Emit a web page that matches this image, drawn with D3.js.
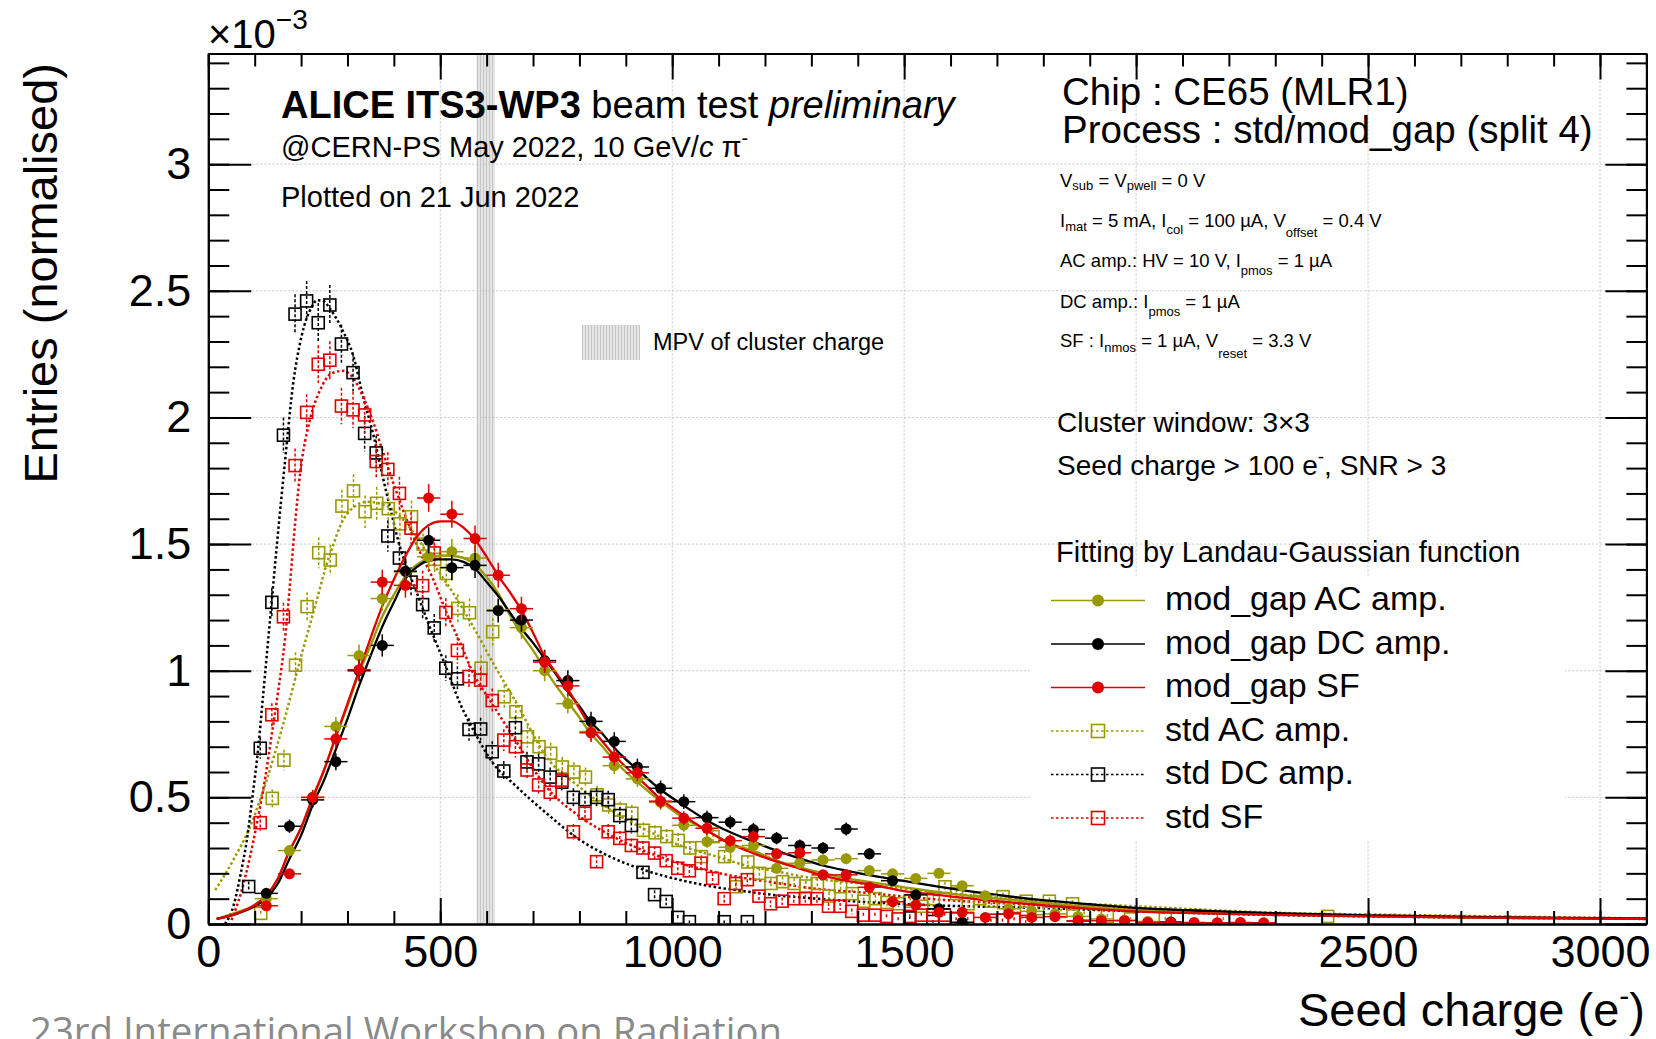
<!DOCTYPE html>
<html>
<head>
<meta charset="utf-8">
<script src="https://cdn.jsdelivr.net/npm/d3@7"></script>
<style>
  html, body { margin: 0; padding: 0; background: #fff; }
  svg { display: block; font-family: "Liberation Sans", Arial, sans-serif; }
</style>
</head>
<body>
<svg id="chart" width="1656" height="1039"></svg>
<script>
// ====== Dados ======
// pontos [carga (e-), entradas x1e-3]
const modAC = [[125,0.10],[175,0.29],[225,0.50],[275,0.78],[325,1.06],[375,1.285],[425,1.39],[475,1.45],[525,1.47],[575,1.445],
  [625,1.24],[675,1.17],[725,1.00],[775,0.87],[825,0.76],[875,0.625],[925,0.573],[975,0.48],[1025,0.39],[1075,0.325],
  [1125,0.303],[1175,0.31],[1225,0.22],[1275,0.24],[1325,0.253],[1375,0.258],[1425,0.211],[1475,0.198],[1525,0.18],[1575,0.20],
  [1625,0.151],[1675,0.112],[1725,0.06],[1775,0.05],[1825,0.04],[1875,0.03],[1925,0.02],[1975,0.015],[2025,0.01]];
const modDC = [[125,0.121],[175,0.386],[225,0.49],[275,0.641],[325,1.00],[375,1.10],[425,1.393],[475,1.515],[525,1.407],[575,1.416],
  [625,1.237],[675,1.20],[725,1.04],[775,0.961],[825,0.80],[875,0.721],[925,0.62],[975,0.536],[1025,0.483],[1075,0.42],
  [1125,0.402],[1175,0.373],[1225,0.339],[1275,0.31],[1325,0.30],[1375,0.375],[1425,0.277],[1475,0.171],[1525,0.115],[1575,0.06],
  [1625,0.007],[1875,0.012],[2075,0.008]];
const modSF = [[125,0.072],[175,0.198],[225,0.50],[275,0.731],[325,1.004],[375,1.35],[425,1.337],[475,1.682],[525,1.618],[575,1.522],
  [625,1.377],[675,1.245],[725,1.034],[775,0.94],[825,0.755],[875,0.659],[925,0.597],[975,0.485],[1025,0.418],[1075,0.378],
  [1125,0.329],[1175,0.345],[1225,0.277],[1275,0.281],[1325,0.194],[1375,0.194],[1425,0.145],[1475,0.088],[1525,0.075],[1575,0.046],
  [1625,0.046],[1675,0.026],[1725,0.04],[1775,0.026],[1825,0.029],[1875,0.013],[1925,0.013],[1975,0.013],[2025,0.006],[2075,0.006],
  [2125,0.006],[2175,0.005],[2225,0.006],[2275,0.005]];
const stdAC = [[113,0.042],[138,0.496],[163,0.647],[188,1.022],[213,1.253],[238,1.466],[263,1.437],[288,1.65],[313,1.71],[338,1.628],
  [363,1.661],[388,1.64],[413,1.58],[438,1.608],[463,1.50],[488,1.44],[513,1.384],[538,1.246],[563,1.229],[588,1.01],
  [613,1.154],[638,0.897],[663,0.838],[688,0.739],[713,0.70],[738,0.674],[763,0.62],[788,0.60],[813,0.58],[838,0.51],
  [863,0.47],[888,0.45],[913,0.437],[938,0.37],[963,0.36],[988,0.345],[1013,0.33],[1038,0.30],[1063,0.266],[1088,0.345],
  [1113,0.266],[1138,0.147],[1163,0.245],[1188,0.20],[1213,0.16],[1238,0.167],[1263,0.16],[1288,0.15],[1313,0.16],[1338,0.11],
  [1363,0.147],[1388,0.12],[1413,0.09],[1438,0.10],[1463,0.085],[1488,0.08],[1513,0.09],[1538,0.07],[1563,0.10],[1588,0.147],
  [1613,0.12],[1638,0.08],[1663,0.10],[1688,0.09],[1713,0.108],[1738,0.07],[1763,0.09],[1788,0.06],[1813,0.09],[1838,0.05],
  [1863,0.08],[1888,0.04],[1938,0.03],[1988,0.02],[2063,0.02],[2188,0.02],[2413,0.03]];
const stdDC = [[87,0.148],[112,0.694],[137,1.27],[162,1.93],[187,2.408],[212,2.46],[237,2.374],[262,2.444],[287,2.29],[312,2.177],
  [337,1.937],[362,1.86],[387,1.532],[412,1.445],[437,1.35],[462,1.261],[487,1.169],[512,1.01],[537,0.968],[562,0.768],
  [587,0.770],[612,0.68],[637,0.604],[662,0.775],[687,0.64],[712,0.632],[737,0.58],[762,0.56],[787,0.50],[812,0.491],
  [837,0.50],[862,0.491],[887,0.428],[912,0.389],[937,0.204],[962,0.116],[987,0.089],[1012,0.026],[1037,0.009],[1112,0.009],
  [1162,0.009],[1512,0.024],[1562,0.01]];
const stdSF = [[112,0.40],[137,0.826],[162,1.213],[187,1.81],[212,2.02],[237,2.21],[262,2.226],[287,2.045],[312,2.03],[337,2.01],
  [362,1.826],[387,1.795],[412,1.70],[437,1.563],[462,1.336],[487,1.465],[512,1.23],[537,1.08],[562,0.977],[587,0.963],
  [612,0.882],[637,0.726],[662,0.70],[687,0.608],[712,0.549],[737,0.52],[762,0.568],[787,0.364],[812,0.437],[837,0.246],
  [862,0.364],[887,0.338],[912,0.31],[937,0.30],[962,0.28],[987,0.25],[1012,0.22],[1037,0.21],[1062,0.24],[1087,0.18],
  [1112,0.10],[1137,0.16],[1162,0.175],[1187,0.11],[1212,0.08],[1237,0.09],[1262,0.10],[1287,0.10],[1312,0.10],[1337,0.07],
  [1362,0.07],[1387,0.05],[1412,0.035],[1437,0.035],[1462,0.03],[1487,0.02],[1512,0.03],[1537,0.035],[1562,0.035],[1587,0.035],
  [1612,0.02],[1637,0.02],[1687,0.015],[1712,0.015],[1737,0.02],[1762,0.01]];

// curvas de ajuste Landau-Gauss (amostradas da figura)
const fitModAC = [[18,0.02],[60,0.045],[100,0.075],[124,0.11],[150,0.18],[173,0.28],[200,0.38],[225,0.49],[250,0.61],[273,0.73],
  [300,0.86],[325,0.99],[350,1.10],[374,1.21],[400,1.30],[424,1.37],[450,1.42],[471,1.44],[505,1.455],[540,1.45],[574,1.42],
  [600,1.37],[627,1.30],[650,1.22],[673,1.15],[700,1.08],[724,1.01],[750,0.94],[774,0.88],[800,0.815],[823,0.755],[850,0.70],
  [873,0.65],[900,0.60],[925,0.56],[971,0.49],[1023,0.42],[1074,0.37],[1122,0.32],[1174,0.29],[1225,0.25],[1273,0.225],
  [1327,0.20],[1377,0.18],[1434,0.163],[1500,0.145],[1577,0.125],[1700,0.10],[1793,0.085],[1900,0.068],[2008,0.055],
  [2150,0.046],[2295,0.039],[2500,0.031],[2750,0.025],[3100,0.02]];
const fitModDC = [[18,0.02],[60,0.04],[100,0.07],[124,0.10],[150,0.16],[173,0.25],[200,0.35],[225,0.47],[250,0.57],[273,0.68],
  [300,0.81],[325,0.94],[350,1.06],[374,1.17],[400,1.27],[424,1.36],[450,1.41],[467,1.43],[496,1.44],[524,1.44],[550,1.43],
  [574,1.405],[600,1.35],[627,1.29],[650,1.23],[673,1.17],[700,1.11],[724,1.05],[750,0.985],[774,0.92],[800,0.86],[823,0.80],
  [850,0.75],[873,0.70],[900,0.65],[925,0.61],[971,0.536],[1023,0.47],[1074,0.41],[1122,0.365],[1174,0.325],[1225,0.29],
  [1273,0.26],[1327,0.23],[1377,0.21],[1434,0.19],[1500,0.17],[1577,0.147],[1700,0.115],[1793,0.095],[1900,0.078],
  [2008,0.063],[2150,0.052],[2295,0.043],[2500,0.034],[2750,0.027],[3100,0.021]];
const fitModSF = [[18,0.02],[60,0.04],[100,0.075],[124,0.11],[150,0.18],[173,0.28],[200,0.38],[225,0.50],[250,0.61],[273,0.73],
  [300,0.87],[325,1.00],[350,1.13],[374,1.25],[400,1.36],[424,1.45],[450,1.53],[475,1.575],[500,1.59],[526,1.59],[550,1.565],
  [574,1.52],[600,1.45],[627,1.37],[650,1.31],[673,1.245],[700,1.15],[724,1.06],[750,0.99],[774,0.93],[800,0.85],[823,0.78],
  [850,0.72],[873,0.67],[900,0.62],[925,0.58],[971,0.50],[1023,0.43],[1074,0.37],[1122,0.32],[1174,0.28],[1225,0.246],
  [1273,0.22],[1327,0.19],[1377,0.17],[1434,0.154],[1500,0.13],[1577,0.114],[1700,0.09],[1793,0.075],[1900,0.06],
  [2008,0.049],[2150,0.042],[2295,0.036],[2500,0.03],[2750,0.025],[3100,0.02]];
const fitStdAC = [[15,0.134],[54,0.253],[90,0.384],[126,0.569],[162,0.793],[198,1.042],[234,1.28],[255,1.42],[270,1.50],[284,1.57],
  [313,1.645],[342,1.667],[370,1.66],[399,1.634],[428,1.58],[456,1.51],[485,1.424],[528,1.306],[571,1.174],[614,1.03],
  [665,0.87],[729,0.66],[801,0.54],[873,0.443],[945,0.37],[1017,0.31],[1089,0.27],[1161,0.23],[1232,0.205],[1305,0.18],
  [1405,0.16],[1550,0.13],[1793,0.09],[2000,0.07],[2295,0.045],[2600,0.035],[3100,0.022]];
const fitStdDC = [[36,0.0],[54,0.07],[70,0.2],[83,0.33],[95,0.5],[108,0.70],[118,0.9],[129,1.12],[139,1.32],[149,1.52],[165,1.82],
  [183,2.135],[201,2.32],[223,2.437],[235,2.463],[248,2.46],[262,2.43],[288,2.35],[313,2.24],[334,2.08],[356,1.93],[376,1.766],
  [395,1.62],[413,1.49],[430,1.40],[449,1.31],[478,1.17],[507,1.04],[543,0.87],[579,0.74],[614,0.634],[660,0.55],[729,0.437],
  [801,0.332],[873,0.26],[945,0.21],[1017,0.174],[1089,0.147],[1161,0.128],[1232,0.112],[1305,0.101],[1405,0.088],
  [1550,0.075],[1793,0.063],[2000,0.05],[2295,0.036],[2600,0.028],[3100,0.02]];
const fitStdSF = [[50,0.016],[70,0.12],[90,0.266],[105,0.40],[122,0.569],[137,0.75],[151,0.924],[165,1.12],[176,1.34],[187,1.58],
  [198,1.78],[219,1.99],[241,2.108],[266,2.174],[291,2.184],[313,2.154],[334,2.08],[356,1.98],[377,1.86],[399,1.74],[420,1.634],
  [442,1.53],[456,1.47],[485,1.36],[514,1.227],[543,1.11],[571,0.99],[607,0.884],[657,0.74],[729,0.54],[801,0.424],[873,0.345],
  [945,0.285],[1017,0.24],[1089,0.206],[1161,0.18],[1232,0.16],[1305,0.14],[1405,0.125],[1550,0.10],[1793,0.075],[2000,0.06],
  [2295,0.042],[2600,0.032],[3100,0.022]];

const legendNames = ["mod_gap AC amp.", "mod_gap DC amp.", "mod_gap SF", "std AC amp.", "std DC amp.", "std SF"];
const xTicks = [0, 500, 1000, 1500, 2000, 2500, 3000];
const yTicks = [0, 0.5, 1, 1.5, 2, 2.5, 3];
const mpvBand = [578, 618];
const paramLines = [
  [["V"], ["sub", 3], [" = V"], ["pwell", 3], [" = 0 V"]],
  [["I"], ["mat", 4], [" = 5 mA, I"], ["col", 7], [" = 100 \u00b5A, V"], ["offset", 10], [" = 0.4 V"]],
  [["AC amp.: HV = 10 V, I"], ["pmos", 8], [" = 1 \u00b5A"]],
  [["DC amp.: I"], ["pmos", 8], [" = 1 \u00b5A"]],
  [["SF : I"], ["nmos", 5], [" = 1 \u00b5A, V"], ["reset", 11], [" = 3.3 V"]]
];

const olive = "#999900", red = "#e00000", black = "#000000";

// series: ordem de desenho (std primeiro)
const series = [
  { name: legendNames[3], color: olive, open: true, pts: stdAC, fit: fitStdAC, halfBin: 12.5 },
  { name: legendNames[4], color: black, open: true, pts: stdDC, fit: fitStdDC, halfBin: 12.5 },
  { name: legendNames[5], color: red, open: true, pts: stdSF, fit: fitStdSF, halfBin: 12.5 },
  { name: legendNames[0], color: olive, open: false, pts: modAC, fit: fitModAC, halfBin: 25 },
  { name: legendNames[1], color: black, open: false, pts: modDC, fit: fitModDC, halfBin: 25 },
  { name: legendNames[2], color: red, open: false, pts: modSF, fit: fitModSF, halfBin: 25 }
];

// ====== Escalas ======
const frame = { left: 208.3, right: 1646.4, top: 53.5, bottom: 924 };
const x = d3.scaleLinear().domain([0, 3100]).range([frame.left, frame.right]);
const y = d3.scaleLinear().domain([0, 3.437]).range([frame.bottom, frame.top]);

const svg = d3.select("#chart");
const defs = svg.append("defs");

defs.append("clipPath").attr("id", "plotClip")
  .append("rect")
  .attr("x", frame.left).attr("y", frame.top)
  .attr("width", frame.right - frame.left).attr("height", frame.bottom - frame.top);

// hachura da banda MPV
const pat = defs.append("pattern").attr("id", "mpvHatch")
  .attr("patternUnits", "userSpaceOnUse").attr("width", 3).attr("height", 3);
pat.append("rect").attr("width", 3).attr("height", 3).attr("fill", "#e4e4e4");
pat.append("line").attr("x1", 0.5).attr("x2", 0.5).attr("y1", 0).attr("y2", 3)
  .attr("stroke", "#c6c6c6").attr("stroke-width", 1);

// ====== Banda MPV ======
svg.append("rect")
  .attr("x", x(mpvBand[0])).attr("y", frame.top)
  .attr("width", x(mpvBand[1]) - x(mpvBand[0])).attr("height", frame.bottom - frame.top)
  .attr("fill", "url(#mpvHatch)");

// ====== Grade ======
const grid = svg.append("g").attr("stroke", "#c4c4c4").attr("stroke-width", 1).attr("stroke-dasharray", "2,2");
xTicks.filter(v => v > 0).forEach(v => {
  grid.append("line").attr("x1", x(v)).attr("x2", x(v)).attr("y1", frame.top).attr("y2", frame.bottom);
});
yTicks.filter(v => v > 0).forEach(v => {
  grid.append("line").attr("x1", frame.left).attr("x2", frame.right).attr("y1", y(v)).attr("y2", y(v));
});

// caixa branca da legenda (cobre a grade)
svg.append("rect").attr("x", 1030).attr("y", 577).attr("width", 535).attr("height", 263).attr("fill", "#fff");

// ====== Dados e ajustes ======
const plot = svg.append("g").attr("clip-path", "url(#plotClip)");
const line = d3.line().x(d => x(d[0])).y(d => y(d[1])).curve(d3.curveMonotoneX);
const errScale = 0.042;

function drawFit(s) {
  plot.append("path")
    .datum(s.fit)
    .attr("d", line)
    .attr("fill", "none")
    .attr("stroke", s.color)
    .attr("stroke-width", s.open ? 2.5 : 2.3)
    .attr("stroke-dasharray", s.open ? "2.5,2.5" : null);
}

function drawPoints(s) {
  const g = plot.append("g");
  const err = d => errScale * Math.sqrt(d[1]) * (s.open ? 1.2 : 1);
  // barras de erro
  g.selectAll(".ey").data(s.pts).enter().append("line")
    .attr("x1", d => x(d[0])).attr("x2", d => x(d[0]))
    .attr("y1", d => y(d[1] + err(d))).attr("y2", d => y(Math.max(0, d[1] - err(d))))
    .attr("stroke", s.color).attr("stroke-width", 1.5)
    .attr("stroke-dasharray", s.open ? "3,2" : null);
  if (!s.open) {
    g.selectAll(".ex").data(s.pts).enter().append("line")
      .attr("x1", d => x(d[0] - s.halfBin)).attr("x2", d => x(d[0] + s.halfBin))
      .attr("y1", d => y(d[1])).attr("y2", d => y(d[1]))
      .attr("stroke", s.color).attr("stroke-width", 1.5);
    g.selectAll("circle").data(s.pts).enter().append("circle")
      .attr("cx", d => x(d[0])).attr("cy", d => y(d[1])).attr("r", 5.5)
      .attr("fill", s.color);
  } else {
    g.selectAll("rect").data(s.pts).enter().append("rect")
      .attr("x", d => x(d[0]) - 6).attr("y", d => y(d[1]) - 6)
      .attr("width", 12).attr("height", 12)
      .attr("fill", "none").attr("stroke", s.color).attr("stroke-width", 1.6);
  }
}

series.filter(s => s.open).forEach(drawFit);
series.filter(s => s.open).forEach(drawPoints);
series.filter(s => !s.open).forEach(drawFit);
series.filter(s => !s.open).forEach(drawPoints);

// ====== Eixos ======
function styleAxis(g) {
  g.select(".domain").attr("stroke", "#000").attr("stroke-width", 2);
  g.selectAll(".tick line").attr("stroke", "#000").attr("stroke-width", 2);
  g.selectAll("text").attr("font-size", 45).attr("fill", "#000")
    .attr("font-family", "Liberation Sans, Arial, sans-serif");
}
const xMinor = d3.range(0, 3101, 100);
const yMinor = d3.range(0, 3.41, 0.1);

svg.append("g").attr("transform", `translate(0,${frame.bottom})`)
  .call(d3.axisBottom(x).tickValues(xMinor).tickSize(-13).tickSizeOuter(0).tickFormat(""))
  .call(styleAxis);
svg.append("g").attr("transform", `translate(0,${frame.bottom})`)
  .call(d3.axisBottom(x).tickValues(xTicks).tickSize(-26).tickSizeOuter(0).tickPadding(11).tickFormat(d3.format("d")))
  .call(styleAxis);
svg.append("g").attr("transform", `translate(0,${frame.top})`)
  .call(d3.axisTop(x).tickValues(xMinor).tickSize(-13).tickSizeOuter(0).tickFormat(""))
  .call(styleAxis);
svg.append("g").attr("transform", `translate(0,${frame.top})`)
  .call(d3.axisTop(x).tickValues(xTicks).tickSize(-26).tickSizeOuter(0).tickFormat(""))
  .call(styleAxis);
svg.append("g").attr("transform", `translate(${frame.left},0)`)
  .call(d3.axisLeft(y).tickValues(yMinor).tickSize(-21).tickSizeOuter(0).tickFormat(""))
  .call(styleAxis);
svg.append("g").attr("transform", `translate(${frame.left},0)`)
  .call(d3.axisLeft(y).tickValues(yTicks).tickSize(-43).tickSizeOuter(0).tickPadding(17).tickFormat(d3.format("")))
  .call(styleAxis);
svg.append("g").attr("transform", `translate(${frame.right},0)`)
  .call(d3.axisRight(y).tickValues(yMinor).tickSize(-20).tickSizeOuter(0).tickFormat(""))
  .call(styleAxis);
svg.append("g").attr("transform", `translate(${frame.right},0)`)
  .call(d3.axisRight(y).tickValues(yTicks).tickSize(-41).tickSizeOuter(0).tickFormat(""))
  .call(styleAxis);

// ====== Textos ======
function addText(px, py, size, opts = {}) {
  return svg.append("text")
    .attr("x", px).attr("y", py)
    .attr("font-size", size)
    .attr("fill", opts.fill || "#000")
    .attr("text-anchor", opts.anchor || "start");
}

// x10^-3
const mult = addText(208, 48, 40);
mult.append("tspan").text("\u00d710");
mult.append("tspan").attr("font-size", 28).attr("dy", -19).text("\u22123");

// cabeçalho ALICE
const head = addText(281, 118, 38);
head.append("tspan").attr("font-weight", "bold").text("ALICE ITS3-WP3");
head.append("tspan").text(" beam test ");
head.append("tspan").attr("font-style", "italic").text("preliminary");

const cern = addText(281, 157, 29);
cern.append("tspan").text("@CERN-PS May 2022, 10 GeV/");
cern.append("tspan").attr("font-style", "italic").text("c");
cern.append("tspan").text(" \u03c0");
cern.append("tspan").attr("font-size", 20).attr("dy", -12).text("-");

addText(281, 207, 29).text("Plotted on 21 Jun 2022");

addText(1062, 105, 38.5).text("Chip : CE65 (MLR1)");
addText(1062, 143, 38.5).text("Process : std/mod_gap (split 4)");

// parâmetros com subscritos
const paramBase = [186.7, 227.3, 267.3, 308.3, 346.7];
paramLines.forEach((parts, i) => {
  const t = addText(1060, paramBase[i], 18.5);
  let shift = 0;
  parts.forEach(([txt, sub]) => {
    const isSub = sub !== undefined;
    const dy = isSub ? sub - shift : -shift;
    shift = isSub ? sub : 0;
    t.append("tspan").attr("dy", dy).attr("font-size", isSub ? 13 : 18.5).text(txt);
  });
});

// legenda MPV
svg.append("rect").attr("x", 582).attr("y", 325).attr("width", 58).attr("height", 35).attr("fill", "url(#mpvHatch)");
addText(653, 350, 23.5).text("MPV of cluster charge");

addText(1057, 432, 28).text("Cluster window: 3\u00d73");
const seed = addText(1057, 475, 28);
seed.append("tspan").text("Seed charge > 100 e");
seed.append("tspan").attr("font-size", 19).attr("dy", -12).text("-");
seed.append("tspan").attr("dy", 12).text(", SNR > 3");

addText(1056, 562, 29).text("Fitting by Landau-Gaussian function");

// ====== Legenda ======
const legendOrder = [3, 4, 5, 0, 1, 2]; // índices em series
legendOrder.forEach((si, i) => {
  const s = series[si];
  const base = 610 + i * 43.5;
  const cy = base - 9.5;
  svg.append("line").attr("x1", 1051).attr("x2", 1145).attr("y1", cy).attr("y2", cy)
    .attr("stroke", s.color).attr("stroke-width", s.open ? 1.6 : 1.5)
    .attr("stroke-dasharray", s.open ? "2.5,2.5" : null);
  if (s.open) {
    svg.append("rect").attr("x", 1098 - 6.5).attr("y", cy - 6.5).attr("width", 13).attr("height", 13)
      .attr("fill", "none").attr("stroke", s.color).attr("stroke-width", 1.6);
  } else {
    svg.append("circle").attr("cx", 1098).attr("cy", cy).attr("r", 6).attr("fill", s.color);
  }
  addText(1165, base, 34).text(s.name);
});

// títulos dos eixos
svg.append("text")
  .attr("transform", "translate(57,63) rotate(-90)")
  .attr("text-anchor", "end")
  .attr("font-size", 47)
  .text("Entries (normalised)");

const xt = addText(1645, 1026, 47, { anchor: "end" });
xt.append("tspan").text("Seed charge (e");
xt.append("tspan").attr("font-size", 30).attr("dy", -20).text("-");
xt.append("tspan").attr("dy", 20).text(")");

// rodapé cortado
svg.append("text")
  .attr("x", 30).attr("y", 1045)
  .attr("font-family", "Open Sans, sans-serif")
  .attr("font-size", 38)
  .attr("fill", "#8a8a8a")
  .attr("textLength", 752)
  .attr("lengthAdjust", "spacingAndGlyphs")
  .text("23rd International Workshop on Radiation");
</script>
</body>
</html>
